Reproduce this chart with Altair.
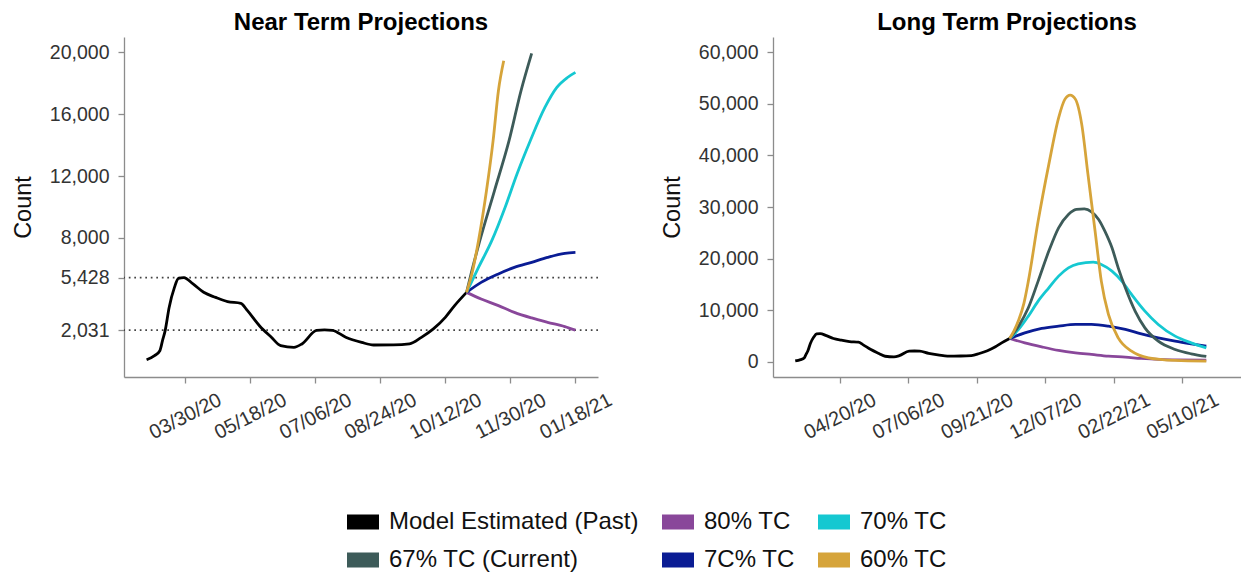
import altair as alt
import pandas as pd

# ---------------- data ----------------
SERIES = ["Model Estimated (Past)", "80% TC", "70% TC", "67% TC (Current)", "7C% TC", "60% TC"]
COLORS = ["#000000", "#89479A", "#15C8D1", "#3D5B59", "#0A1C94", "#D6A43A"]
DRAW_ORDER = ["Model Estimated (Past)", "80% TC", "7C% TC", "70% TC", "67% TC (Current)", "60% TC"]

past_dates = ["2020-03-01", "2020-03-07", "2020-03-11", "2020-03-13", "2020-03-15", "2020-03-18",
              "2020-03-22", "2020-03-25", "2020-03-29", "2020-04-05", "2020-04-13", "2020-04-22",
              "2020-05-01", "2020-05-11", "2020-05-16", "2020-05-25", "2020-06-03", "2020-06-10",
              "2020-06-20", "2020-06-26", "2020-07-07", "2020-07-13", "2020-07-19", "2020-07-29",
              "2020-08-10", "2020-08-19", "2020-09-03", "2020-09-15", "2020-09-24", "2020-10-03",
              "2020-10-12", "2020-10-19", "2020-10-28"]
past_values = [120, 380, 700, 1350, 2000, 3500, 4800, 5380, 5428, 5020, 4480, 4150,
               3880, 3770, 3290, 2320, 1570, 1030, 920, 1140, 2010, 2050, 2020, 1570,
               1240, 1070, 1075, 1140, 1565, 2110, 2860, 3620, 4476]

# near term projections
near_80_dates = ["2020-10-28", "2020-11-08", "2020-11-21", "2020-12-03", "2020-12-16", "2020-12-28", "2021-01-10", "2021-01-18"]
near_80_values = [4476, 4050, 3620, 3180, 2820, 2540, 2260, 2031]
near_7c_dates = ["2020-10-28", "2020-11-08", "2020-11-21", "2020-12-03", "2020-12-16", "2020-12-28", "2021-01-10", "2021-01-18"]
near_7c_values = [4476, 5120, 5670, 6090, 6420, 6740, 7000, 7060]
near_70_dates = ["2020-10-28", "2020-11-06", "2020-11-16", "2020-11-26", "2020-12-05", "2020-12-15",
                 "2020-12-26", "2021-01-04", "2021-01-12", "2021-01-18"]
near_70_values = [4476, 6090, 7820, 9970, 12140, 14290, 16440, 17740, 18380, 18710]
near_67_dates = ["2020-10-28", "2020-11-01", "2020-11-07", "2020-11-18", "2020-11-29", "2020-12-08", "2020-12-16"]
near_67_values = [4476, 5880, 7820, 11050, 14290, 17520, 19935]
near_60_dates = ["2020-10-28", "2020-11-01", "2020-11-06", "2020-11-12", "2020-11-17", "2020-11-21", "2020-11-25"]
near_60_values = [4476, 5670, 7820, 11050, 14290, 17520, 19460]

# long term projections
long_80_dates = ["2020-10-28", "2020-11-14", "2020-12-03", "2020-12-22", "2021-01-10", "2021-01-28",
                 "2021-02-16", "2021-03-07", "2021-03-25", "2021-04-13", "2021-05-02", "2021-06-06"]
long_80_values = [4476, 3630, 2850, 2160, 1690, 1380, 1050, 850, 600, 410, 330, 270]
long_7c_dates = ["2020-10-28", "2020-11-14", "2020-12-03", "2020-12-22", "2021-01-10", "2021-01-28",
                 "2021-02-16", "2021-03-07", "2021-03-25", "2021-04-13", "2021-05-02", "2021-05-20", "2021-06-06"]
long_7c_values = [4476, 5570, 6430, 6870, 7200, 7200, 6870, 6230, 5380, 4600, 3960, 3440, 2990]
long_70_dates = ["2020-10-28", "2020-11-07", "2020-11-18", "2020-11-29", "2020-12-11", "2020-12-22",
                 "2021-01-02", "2021-01-13", "2021-01-30", "2021-02-08", "2021-02-20", "2021-03-03",
                 "2021-03-14", "2021-03-29", "2021-04-13", "2021-05-02", "2021-05-20", "2021-06-06"]
long_70_values = [4476, 6230, 8820, 11730, 14310, 16580, 18190, 18970, 19300, 18850, 17550, 15610,
                  13030, 9790, 7200, 4930, 3630, 2660]
long_67_dates = ["2020-10-28", "2020-11-07", "2020-11-18", "2020-11-29", "2020-12-11", "2020-12-22",
                 "2021-01-02", "2021-01-11", "2021-01-20", "2021-01-28", "2021-02-05", "2021-02-12",
                 "2021-02-20", "2021-02-27", "2021-03-07", "2021-03-18", "2021-03-29", "2021-04-13",
                 "2021-05-02", "2021-05-20", "2021-06-06"]
long_67_values = [4476, 6870, 10430, 15610, 21440, 25960, 28560, 29530, 29650, 29070, 27590, 25320,
                  22080, 18190, 14310, 9790, 6540, 3960, 2350, 1500, 990]
long_60_dates = ["2020-10-28", "2020-11-02", "2020-11-07", "2020-11-13", "2020-11-18", "2020-11-29",
                 "2020-12-11", "2020-12-22", "2020-12-29", "2021-01-04", "2021-01-10", "2021-01-17",
                 "2021-01-24", "2021-02-01", "2021-02-08", "2021-02-16", "2021-02-27", "2021-03-14",
                 "2021-04-02", "2021-05-02", "2021-06-06"]
long_60_values = [4476, 6000, 8000, 11300, 15610, 27260, 38270, 47320, 50890, 51730, 50890, 46040,
                  36330, 25320, 15610, 9150, 4600, 2020, 720, 210, 80]

near_ref_values = [5428, 2031]

near_tick_dates = ["2020-03-30", "2020-05-18", "2020-07-06", "2020-08-24", "2020-10-12", "2020-11-30", "2021-01-18"]
long_tick_dates = ["2020-04-20", "2020-07-06", "2020-09-21", "2020-12-07", "2021-02-22", "2021-05-10"]
near_y_ticks = [2031, 5428, 8000, 12000, 16000, 20000]
long_y_ticks = [0, 10000, 20000, 30000, 40000, 50000, 60000]
near_x_domain = ["2020-02-13", "2021-02-04"]
long_x_domain = ["2020-02-05", "2021-07-15"]
near_y_domain = [-1000, 21000]
long_y_domain = [-3000, 63000]


def build(series):
    rows = []
    for name in DRAW_ORDER:
        dates, vals = series[name]
        for d, v in zip(dates, vals):
            rows.append({"date": d, "value": v, "series": name})
    return pd.DataFrame(rows)


near_df = build({
    "Model Estimated (Past)": (past_dates, past_values),
    "80% TC": (near_80_dates, near_80_values),
    "7C% TC": (near_7c_dates, near_7c_values),
    "70% TC": (near_70_dates, near_70_values),
    "67% TC (Current)": (near_67_dates, near_67_values),
    "60% TC": (near_60_dates, near_60_values),
})
long_df = build({
    "Model Estimated (Past)": (past_dates, past_values),
    "80% TC": (long_80_dates, long_80_values),
    "7C% TC": (long_7c_dates, long_7c_values),
    "70% TC": (long_70_dates, long_70_values),
    "67% TC (Current)": (long_67_dates, long_67_values),
    "60% TC": (long_60_dates, long_60_values),
})
ref_df = pd.DataFrame({"value": near_ref_values})


def dt(s):
    y, m, d = (int(p) for p in s.split("-"))
    return alt.DateTime(year=y, month=m, date=d, utc=True)


FONT = "Liberation Sans"
AX_COL = "#8c8c8c"
LAB_COL = "#333333"

# legend swatch: a block of thin horizontal strokes (looks like a filled 32x15 rectangle)
_ys = [-0.40625 + 0.1015625 * k for k in range(9)]
SWATCH = " ".join(f"M-1,{y:.4f}H1" for y in _ys)

legend = alt.Legend(
    title=None, orient="none", legendX=222, legendY=468, columns=3, direction="horizontal",
    symbolType=SWATCH, symbolStrokeWidth=2, symbolSize=1024, labelFontSize=24,
    labelFont=FONT, labelColor="#111111", labelOffset=9, columnPadding=19, rowPadding=9,
    labelLimit=400,
)
color = alt.Color("series:N", scale=alt.Scale(domain=SERIES, range=COLORS), legend=legend)


def lines_for(df, xdom, xticks, ydom, yticks):
    x = alt.X("date:T",
              scale=alt.Scale(type="utc", domain=[dt(s) for s in xdom], nice=False),
              axis=alt.Axis(values=[dt(s) for s in xticks],
                            labelExpr="utcFormat(datum.value, '%m/%d/%y')",
                            labelAngle=-27, labelAlign="center", labelBaseline="middle",
                            labelPadding=33, tickSize=6, title=None, grid=False,
                            labelFontSize=20, labelFont=FONT, labelColor=LAB_COL,
                            domainColor=AX_COL, tickColor=AX_COL, domainWidth=1.3, tickWidth=1.3,
                            labelOverlap=False, labelFlush=False))
    y = alt.Y("value:Q",
              scale=alt.Scale(domain=ydom, nice=False, zero=False),
              axis=alt.Axis(values=yticks, format=",d", title="Count", titleFontSize=23.5,
                            titleFont=FONT, titleFontWeight="normal", titleColor="#111111",
                            titlePadding=14, tickSize=6, labelPadding=9, grid=False,
                            labelFontSize=19.5, labelFont=FONT, labelColor=LAB_COL,
                            domainColor=AX_COL, tickColor=AX_COL, domainWidth=1.3, tickWidth=1.3))
    return alt.Chart(df).mark_line(interpolate="monotone", strokeWidth=2.8).encode(
        x=x, y=y, color=color)


def titled(layer, title, width):
    return layer.properties(
        width=width, height=340,
        title=alt.TitleParams(title, fontSize=24, fontWeight="bold", font=FONT, color="#000000",
                              offset=2, anchor="middle"))


near_lines = lines_for(near_df, near_x_domain, near_tick_dates, near_y_domain, near_y_ticks)
rules = alt.Chart(ref_df).mark_rule(strokeDash=[1.7, 3.8], color="#444444", strokeWidth=1.6).encode(
    y=alt.Y("value:Q"))
near = titled(alt.layer(rules, near_lines), "Near Term Projections", 474)

long_lines = lines_for(long_df, long_x_domain, long_tick_dates, long_y_domain, long_y_ticks)
long_ = titled(long_lines, "Long Term Projections", 468)

chart = alt.HConcatChart(hconcat=[near, long_], spacing=175, bounds="flush").properties(
    padding={"left": 3, "top": 3, "right": 0, "bottom": 0}
).configure(background="white", view=alt.ViewConfig(stroke=None))

chart.save("out.html", embed_options={"renderer": "svg", "actions": False})
